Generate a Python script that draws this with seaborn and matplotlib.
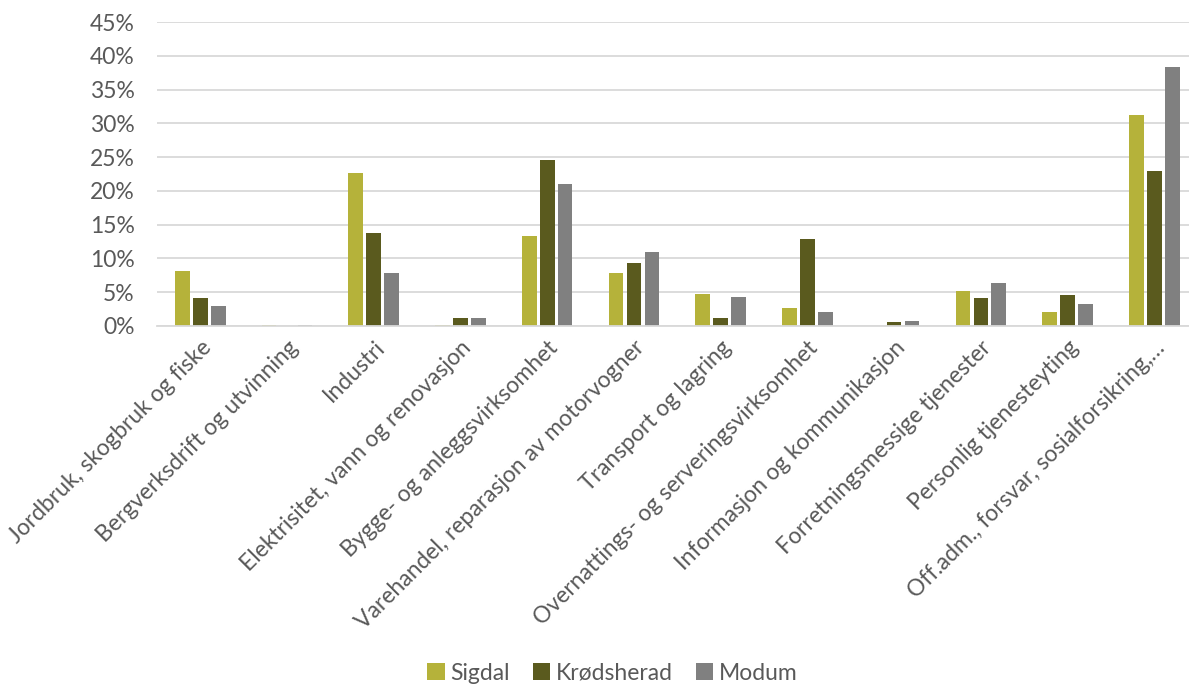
import pandas as pd
import seaborn as sns
import matplotlib.pyplot as plt
from matplotlib.ticker import PercentFormatter

# næringer (categories) and share of employment per kommune, in percent
naeringer = [
    "Jordbruk, skogbruk og fiske",
    "Bergverksdrift og utvinning",
    "Industri",
    "Elektrisitet, vann og renovasjon",
    "Bygge- og anleggsvirksomhet",
    "Varehandel, reparasjon av motorvogner",
    "Transport og lagring",
    "Overnattings- og serveringsvirksomhet",
    "Informasjon og kommunikasjon",
    "Forretningsmessige tjenester",
    "Personlig tjenesteyting",
    "Off.adm., forsvar, sosialforsikring,\u2026",
]
sigdal = [8.1, 0.2, 22.7, 0.2, 13.3, 7.9, 4.7, 2.7, 0.0, 5.1, 2.1, 31.3]
krodsherad = [4.1, 0.0, 13.8, 1.1, 24.6, 9.3, 1.1, 12.8, 0.55, 4.1, 4.6, 23.0]
modum = [3.0, 0.2, 7.9, 1.1, 21.0, 11.0, 4.3, 2.0, 0.7, 6.3, 3.2, 38.4]

kommuner = ["Sigdal", "Krødsherad", "Modum"]
farger = ["#B5B23A", "#5A5A1E", "#808080"]

rows = []
for k, vals in zip(kommuner, [sigdal, krodsherad, modum]):
    for n, v in zip(naeringer, vals):
        rows.append({"Næring": n, "Kommune": k, "Andel": v})
df = pd.DataFrame(rows)

sns.set_style("white")
plt.rcParams["font.family"] = ["Lato", "DejaVu Sans"]

fig = plt.figure(figsize=(11.89, 6.89), dpi=100)
ax = fig.add_axes([0.132, 0.527, 0.868, 0.441])

sns.barplot(data=df, x="Næring", y="Andel", hue="Kommune", order=naeringer,
            hue_order=kommuner, palette=farger, width=0.62, saturation=1,
            linewidth=0, ax=ax)

# small gap between the bars in a group
for p in ax.patches:
    w = p.get_width()
    if w > 0:
        p.set_x(p.get_x() + w * 0.09)
        p.set_width(w * 0.82)

ax.set_ylim(0, 45)
ax.set_yticks(range(0, 46, 5))
ax.yaxis.set_major_formatter(PercentFormatter(decimals=0))
ax.set_xlim(-0.5, 11.4)
ax.grid(axis="y", color="#d9d9d9", linewidth=1.3)
ax.set_axisbelow(True)
for s in ["top", "right", "left"]:
    ax.spines[s].set_visible(False)
ax.spines["bottom"].set_color("#d9d9d9")
ax.spines["bottom"].set_linewidth(1.3)
ax.set_xlabel("")
ax.set_ylabel("")
ax.tick_params(axis="both", length=0, labelsize=16.5, colors="#595959")
ax.tick_params(axis="y", pad=16)
ax.tick_params(axis="x", pad=8)
plt.setp(ax.get_xticklabels(), rotation=45, ha="right", va="top",
         rotation_mode="anchor")

handles, labels = ax.get_legend_handles_labels()
ax.legend(handles, labels, loc="lower center", bbox_to_anchor=(0.515, -0.022),
          bbox_transform=fig.transFigure, ncol=3, frameon=False,
          fontsize=16.5, handlelength=0.75, handleheight=0.75,
          handletextpad=0.25, columnspacing=1.0, labelcolor="#595959")

fig.savefig("out.png", dpi=100)
